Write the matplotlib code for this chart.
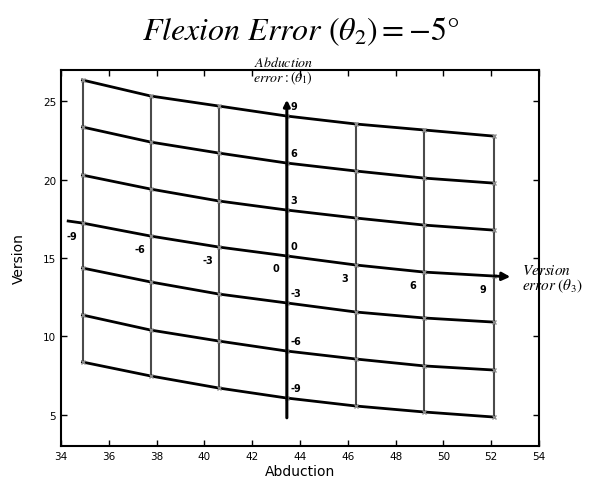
import matplotlib
matplotlib.use("Agg")
import matplotlib.pyplot as plt
import numpy as np

plt.rcParams['mathtext.fontset'] = 'stix'
plt.rcParams['font.family'] = ['DejaVu Sans']

# error levels (degrees)
version_err = [-9, -6, -3, 0, 3, 6, 9]      # one column per level, left to right
abduction_err = [9, 6, 3, 0, -3, -6, -9]    # one row per level, top to bottom

# abduction reached for each version-error column
col_abduction = [34.9, 37.75, 40.6, 43.45, 46.35, 49.2, 52.1]

# version reached, one row per abduction-error level
row_version = [
    [26.36, 25.34, 24.70, 24.06, 23.55, 23.17, 22.78],
    [23.36, 22.40, 21.70, 21.06, 20.55, 20.10, 19.78],
    [20.29, 19.40, 18.64, 18.06, 17.55, 17.10, 16.78],
    [17.23, 16.40, 15.70, 15.13, 14.55, 14.10, 13.85],
    [14.36, 13.47, 12.70, 12.13, 11.55, 11.17, 10.91],
    [11.36, 10.40, 9.70, 9.06, 8.55, 8.11, 7.85],
    [8.36, 7.47, 6.70, 6.06, 5.55, 5.17, 4.85],
]

# ends of the two error axes
version_axis_start = (34.3, 17.36)
version_axis_tip = (52.8, 13.80)
abduction_axis = (43.45, 4.8, 25.1)   # x, bottom, tip

xticks = [34, 36, 38, 40, 42, 44, 46, 48, 50, 52, 54]
yticks = [5, 10, 15, 20, 25]

fig = plt.figure(figsize=(6.01, 4.81), dpi=100)
ax = fig.add_axes([0.1015, 0.0707, 0.7953, 0.7817])

V = np.array(row_version)
xs = np.array(col_abduction)

# vertical (constant version error) lines
for j in range(len(xs)):
    ax.plot([xs[j], xs[j]], [V[:, j].max(), V[:, j].min()], color='#4a4a4a', lw=1.5, zorder=2)

# curves of constant abduction error
for i in range(len(V)):
    ax.plot(xs, V[i], color='black', lw=2.0, zorder=3)
    ax.plot(xs, V[i], ls='none', marker='x', ms=3.5, mec='#8a8a8a', mew=1.0, zorder=4)

# version error axis along the middle curve
mid = abduction_err.index(0)
ax.plot([version_axis_start[0], xs[0]], [version_axis_start[1], V[mid, 0]], color='black', lw=2.0, zorder=3)
ax.annotate('', xy=version_axis_tip, xytext=(xs[-1], V[mid, -1]),
            arrowprops=dict(arrowstyle='-|>', color='black', lw=2.0, mutation_scale=12,
                            shrinkA=0, shrinkB=0), zorder=5)

# abduction error axis
ax.annotate('', xy=(abduction_axis[0], abduction_axis[2]), xytext=(abduction_axis[0], abduction_axis[1]),
            arrowprops=dict(arrowstyle='-|>', color='black', lw=2.2, mutation_scale=9,
                            shrinkA=0, shrinkB=0), zorder=5)

# level labels
for j, lab in enumerate(version_err):
    ax.annotate(str(lab), (xs[j], V[mid, j]), xytext=(-8, -9), textcoords='offset points',
                fontsize=7, fontweight='bold', ha='center', va='center', zorder=6)
ci = version_err.index(0)
for i, lab in enumerate(abduction_err):
    ax.annotate(str(lab), (xs[ci], V[i, ci]), xytext=(2.5, 7), textcoords='offset points',
                fontsize=7, fontweight='bold', ha='left', va='center', zorder=6)

ax.text(43.3, 26.95, '$\\mathit{Abduction}$\n$\\mathit{error}:\\left(\\theta_1\\right)$',
        fontsize=10, ha='center', va='center', linespacing=0.95, clip_on=False)
ax.text(53.3, 13.7, '$\\mathit{Version}$\n$\\mathit{error}\\ \\left(\\theta_3\\right)$',
        fontsize=11, ha='left', va='center', linespacing=0.95, clip_on=False, zorder=6)

ax.set_xlim(34, 54)
ax.set_ylim(3, 27)
ax.set_xticks(xticks)
ax.set_yticks(yticks)
ax.tick_params(direction='in', top=True, right=True, length=4, width=1, labelsize=7.5)
for s in ax.spines.values():
    s.set_linewidth(1.5)
ax.set_xlabel('Abduction', fontsize=10, labelpad=2)
ax.set_ylabel('Version', fontsize=10, labelpad=12)

fig.text(0.5, 0.933, '$\\mathit{Flexion\\ Error}\\ \\left(\\theta_{2}\\right)= -5°$',
         fontsize=23, ha='center', va='center')

fig.savefig('out.png', dpi=100)
